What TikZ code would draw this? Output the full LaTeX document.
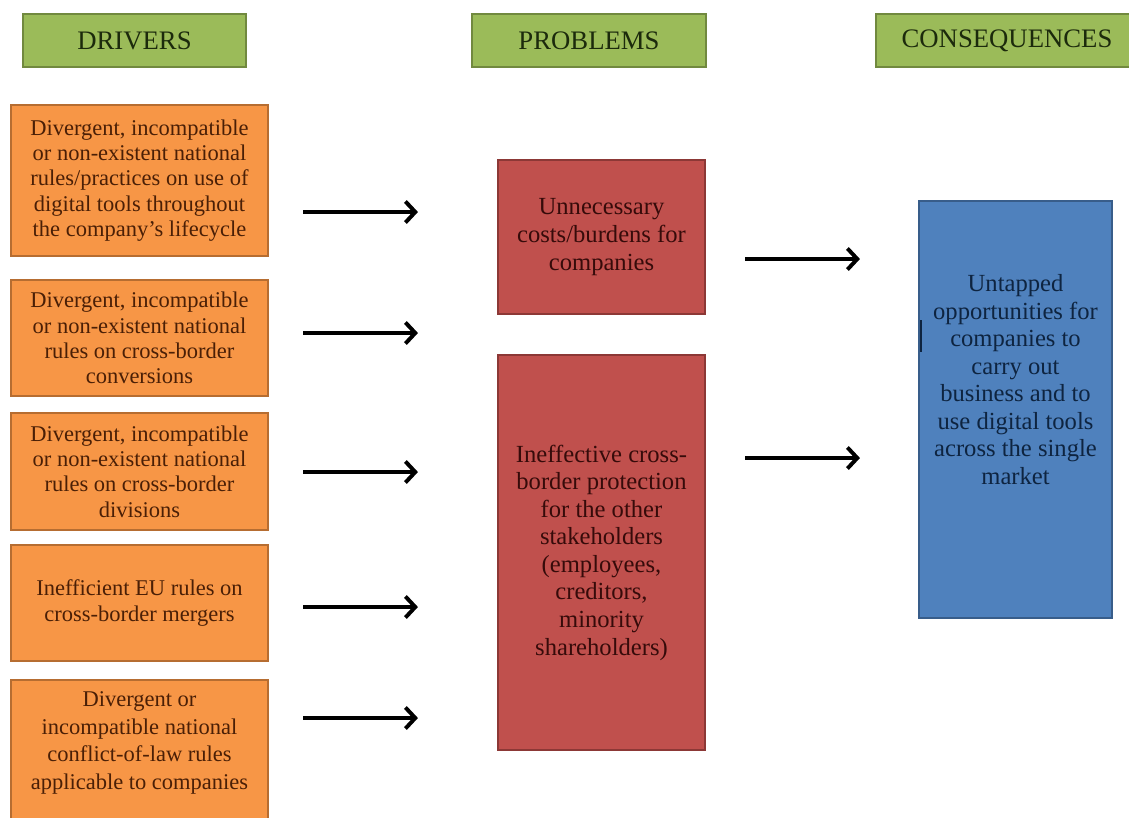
\documentclass[tikz,border=0pt]{standalone}
\usepackage{fontspec}
\setmainfont{Liberation Serif}
\usetikzlibrary{positioning, arrows.meta}

\definecolor{hdrgreen}{HTML}{9BBB59}
\definecolor{hdredge}{HTML}{71893F}
\definecolor{hdrtext}{HTML}{1C2A0C}
\definecolor{drvorange}{HTML}{F79646}
\definecolor{drvedge}{HTML}{B66D31}
\definecolor{drvtext}{HTML}{4A1F06}
\definecolor{probred}{HTML}{C0504D}
\definecolor{probedge}{HTML}{8C3836}
\definecolor{probtext}{HTML}{360B0A}
\definecolor{consblue}{HTML}{4F81BD}
\definecolor{consedge}{HTML}{385D8A}
\definecolor{constext}{HTML}{0E2440}

\begin{document}
\begin{tikzpicture}
    [x=0.025cm, y=-0.025cm, outer sep=0pt,
    header/.style={rectangle, draw=hdredge, fill=hdrgreen, line width=1.2pt,
      minimum height=1.325cm, text=hdrtext, font=\fontsize{19}{21}\selectfont},
    driver/.style={rectangle, draw=drvedge, fill=drvorange, line width=1.2pt,
      minimum width=6.425cm, text=drvtext, align=center,
      font=\fontsize{16}{18}\selectfont},
    problem/.style={rectangle, draw=probedge, fill=probred, line width=1.2pt,
      minimum width=5.175cm, text=probtext, align=center,
      font=\fontsize{17.5}{19.6}\selectfont},
    consequence/.style={rectangle, draw=consedge, fill=consblue, line width=1.2pt,
      minimum width=4.825cm, text=constext, align=center,
      font=\fontsize{17.5}{19.6}\selectfont},
    flow/.style={line width=2.8pt, -{Straight Barb[length=7pt, width=15pt]}}]

    \clip (0,0) rectangle (1129,817);

    % column headers
    \node [header, minimum width=5.575cm] (drivers_hdr) at (134.5,40.5) {DRIVERS};
    \node [header, minimum width=5.85cm] (problems_hdr) at (589,40.5) {PROBLEMS};
    \node [header, minimum width=6.55cm] (consequences_hdr) at (1007,40.5) {CONSEQUENCES};

    % drivers
    \node [driver, minimum height=3.775cm] (drv1) at (139.5,180.5)
    {Divergent, incompatible\\or non-existent national\\rules/practices on use of\\digital tools throughout\\the company's lifecycle};
    \node [driver, minimum height=2.9cm] (drv2) at (139.5,338)
    {Divergent, incompatible\\or non-existent national\\rules on cross-border\\conversions};
    \node [driver, minimum height=2.925cm] (drv3) at (139.5,471.5)
    {Divergent, incompatible\\or non-existent national\\rules on cross-border\\divisions};
    \node [driver, minimum height=2.9cm] (drv4) at (139.5,603)
    {Inefficient EU rules on\\cross-border mergers};
    \node [driver, minimum height=3.75cm, anchor=north,
    label={[driver, draw=none, fill=none, minimum width=0pt, anchor=north, yshift=-0.175cm,
      font=\fontsize{16}{19.6}\selectfont]north:{Divergent or\\incompatible national\\conflict-of-law rules\\applicable to companies}}]
    (drv5) at (139.5,680) {};

    % problems
    \node [problem, minimum height=3.85cm] (prob1) at (601.5,237)
    {Unnecessary\\costs/burdens for\\companies};
    \node [problem, minimum height=9.875cm] (prob2) at (601.5,552.5)
    {Ineffective cross-\\border protection\\for the other\\stakeholders\\(employees,\\creditors,\\minority\\shareholders)};

    % consequence
    \node [consequence, minimum height=10.425cm,
    label={[consequence, draw=none, fill=none, minimum width=0pt, yshift=0.75cm]center:{Untapped\\opportunities for\\companies to\\carry out\\business and to\\use digital tools\\across the single\\market}}]
    (cons) at (1015.5,409.5) {};
    \draw [line width=1pt, constext] (921,320) -- (921,352);

    % arrow rows
    \coordinate (row1) at (0,212);
    \coordinate (row2) at (0,333);
    \coordinate (row3) at (0,472);
    \coordinate (row4) at (0,607);
    \coordinate (row5) at (0,718);
    \coordinate (row6) at (0,259);
    \coordinate (row7) at (0,458);

    \draw [flow, shorten <=0.875cm, shorten >=2cm] (drv1.east |- row1) -- (prob1.west |- row1);
    \draw [flow, shorten <=0.875cm, shorten >=2cm] (drv2.east |- row2) -- (prob1.west |- row2);
    \draw [flow, shorten <=0.875cm, shorten >=2cm] (drv3.east |- row3) -- (prob2.west |- row3);
    \draw [flow, shorten <=0.875cm, shorten >=2cm] (drv4.east |- row4) -- (prob2.west |- row4);
    \draw [flow, shorten <=0.875cm, shorten >=2cm] (drv5.east |- row5) -- (prob2.west |- row5);
    \draw [flow, shorten <=1cm, shorten >=1.475cm] (prob1.east |- row6) -- (cons.west |- row6);
    \draw [flow, shorten <=1cm, shorten >=1.475cm] (prob2.east |- row7) -- (cons.west |- row7);
  \end{tikzpicture}
\end{document}
